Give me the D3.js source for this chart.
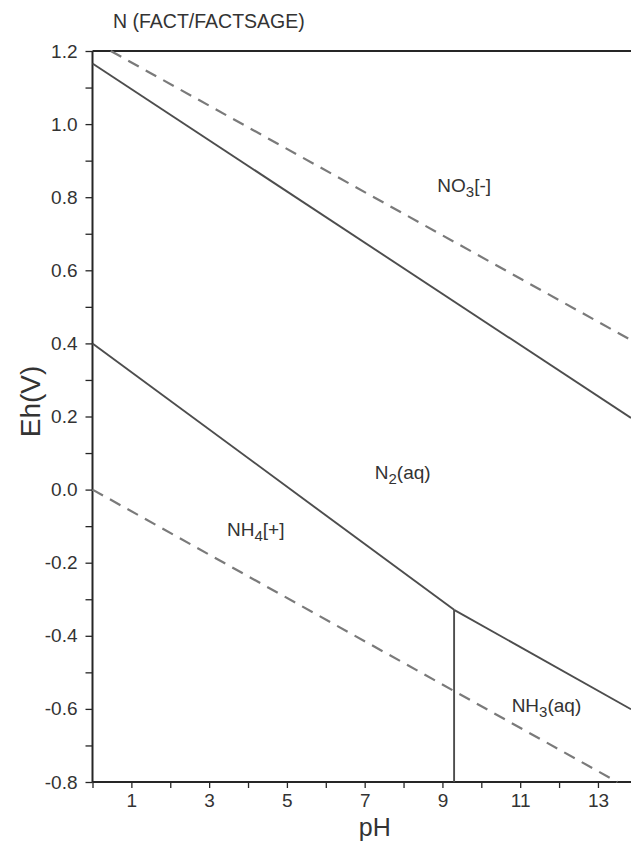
<!DOCTYPE html>
<html>
<head>
<meta charset="utf-8">
<script src="https://cdn.jsdelivr.net/npm/d3@7"></script>
<style>
  html, body { margin: 0; padding: 0; background: #fff; }
  svg { display: block; }
  text { font-family: "Liberation Sans", Arial, sans-serif; fill: #333; }
</style>
</head>
<body>
<script>
// ---- data ----
const title = "N (FACT/FACTSAGE)";
const xTitle = "pH";
const yTitle = "Eh(V)";
const xDomain = [0, 13.85];
const yDomain = [-0.8, 1.2];
const xTicks = d3.range(0, 14);            // every pH unit
const xTickLabels = [1, 3, 5, 7, 9, 11, 13];
const yTicks = d3.range(-8, 13).map(i => i / 10);
const yTickLabels = d3.range(-8, 13, 2).map(i => i / 10);

// solid stability boundaries [pH, Eh]
const no3N2 = [[0, 1.166], [13.85, 0.196]];
const n2Nh4 = [[0, 0.40], [9.3, -0.329]];
const n2Nh3 = [[9.3, -0.329], [13.85, -0.601]];
const nh4Nh3 = [[9.3, -0.329], [9.3, -0.8]];
// water stability limits (dashed)
const o2H2o = [[0.47, 1.2], [13.85, 0.409]];
const h2oH2 = [[0, 0.0], [13.5, -0.8]];

// region labels: [main, subscript, rest, pH, Eh]
const regionLabels = [
  ["NO", "3", "[-]", 8.87, 0.815],
  ["N", "2", "(aq)", 7.26, 0.03],
  ["NH", "4", "[+]", 3.46, -0.128],
  ["NH", "3", "(aq)", 10.78, -0.608]
];

// ---- drawing ----
const W = 631, H = 843;
const svg = d3.select("body").append("svg").attr("width", W).attr("height", H);

const x = d3.scaleLinear().domain(xDomain).range([92.5, 631]);
const y = d3.scaleLinear().domain(yDomain).range([782, 51]);

const axisColor = "#262626";

// axes
const gx = svg.append("g").attr("transform", `translate(0,${y(yDomain[0])})`)
  .call(d3.axisBottom(x).tickValues(xTicks).tickSize(6).tickPadding(6)
    .tickFormat(d => xTickLabels.includes(d) ? String(d) : ""));
gx.select(".domain").remove();
gx.selectAll(".tick line").attr("stroke", axisColor).attr("stroke-width", 1.3);
gx.selectAll(".tick text").attr("font-size", 19).attr("fill", "#333")
  .attr("font-family", "'Liberation Sans', Arial, sans-serif");

const gy = svg.append("g").attr("transform", `translate(${x(0)},0)`)
  .call(d3.axisLeft(y).tickValues(yTicks).tickSize(7).tickPadding(8)
    .tickFormat(d => yTickLabels.some(v => Math.abs(v - d) < 1e-9) ? d.toFixed(1) : ""));
gy.select(".domain").remove();
gy.selectAll(".tick line").attr("stroke", axisColor).attr("stroke-width", 1.3);
gy.selectAll(".tick text").attr("font-size", 19).attr("fill", "#333")
  .attr("font-family", "'Liberation Sans', Arial, sans-serif");

// frame
svg.append("line").attr("x1", x(0)).attr("x2", x(xDomain[1])).attr("y1", y(yDomain[1])).attr("y2", y(yDomain[1]))
  .attr("stroke", axisColor).attr("stroke-width", 2);
svg.append("line").attr("x1", x(0)).attr("x2", x(xDomain[1])).attr("y1", y(yDomain[0])).attr("y2", y(yDomain[0]))
  .attr("stroke", axisColor).attr("stroke-width", 2);
svg.append("line").attr("x1", x(0)).attr("x2", x(0)).attr("y1", y(yDomain[1])).attr("y2", y(yDomain[0]))
  .attr("stroke", axisColor).attr("stroke-width", 2);

// lines
const line = d3.line().x(d => x(d[0])).y(d => y(d[1]));
[no3N2, n2Nh4, n2Nh3, nh4Nh3].forEach(seg => {
  svg.append("path").attr("d", line(seg)).attr("fill", "none")
    .attr("stroke", "#4d4d4d").attr("stroke-width", 1.9);
});
[o2H2o, h2oH2].forEach(seg => {
  svg.append("path").attr("d", line(seg)).attr("fill", "none")
    .attr("stroke", "#7a7a7a").attr("stroke-width", 2.2).attr("stroke-dasharray", "12,8");
});

// region labels
regionLabels.forEach(([a, sub, b, px, py]) => {
  const t = svg.append("text").attr("x", x(px)).attr("y", y(py)).attr("font-size", 19);
  t.append("tspan").text(a);
  t.append("tspan").text(sub).attr("font-size", 15).attr("dy", 5);
  t.append("tspan").text(b).attr("dy", -5);
});

// titles
svg.append("text").attr("x", 113).attr("y", 28).attr("font-size", 19.5).text(title);
svg.append("text").attr("x", (x(0) + x(xDomain[1])) / 2 + 13).attr("y", 836)
  .attr("text-anchor", "middle").attr("font-size", 25).text(xTitle);
svg.append("text").attr("transform", `translate(40,${(y(yDomain[0]) + y(yDomain[1])) / 2 - 15}) rotate(-90)`)
  .attr("text-anchor", "middle").attr("font-size", 28).text(yTitle);
</script>
</body>
</html>
